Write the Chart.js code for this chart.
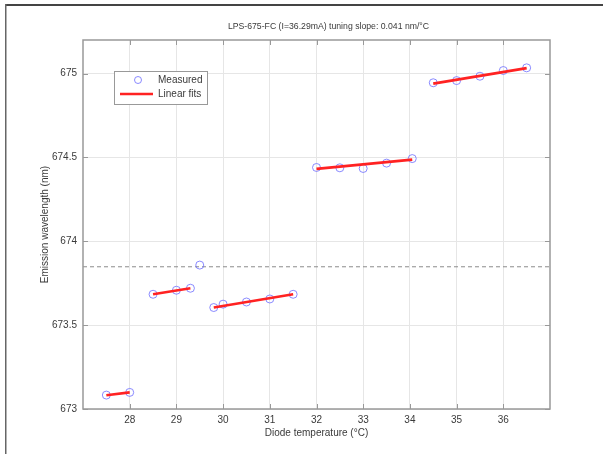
<!DOCTYPE html>
<html>
<head>
<meta charset="utf-8">
<script src="https://cdn.jsdelivr.net/npm/chart.js@4/dist/chart.umd.min.js"></script>
<style>
  html, body { margin: 0; padding: 0; background: #fff; }
  #wrap { position: relative; width: 603px; height: 454px; }
</style>
</head>
<body>
<div id="wrap"><canvas id="chart" width="603" height="454"></canvas></div>
<script>
// measured points (diode temperature in degC, wavelength in nm)
const measuredT  = [27.5, 28, 28.5, 29, 29.3, 29.5, 29.8, 30, 30.5, 31, 31.5, 32, 32.5, 33, 33.5, 34.05, 34.5, 35, 35.5, 36, 36.5];
const measuredNm = [673.083, 673.099, 673.684, 673.708, 673.72, 673.858, 673.605, 673.625, 673.638, 673.656, 673.684,
                    674.44, 674.438, 674.434, 674.466, 674.493, 674.945, 674.958, 674.984, 675.018, 675.034];

// linear fit segments (start / end)
const fitStartT  = [27.5, 28.5, 29.8, 32, 34.5];
const fitStartNm = [673.082, 673.684, 673.605, 674.432, 674.94];
const fitEndT    = [28, 29.3, 31.5, 34.05, 36.5];
const fitEndNm   = [673.099, 673.72, 673.684, 674.487, 675.032];

// dashed reference level
const refLevel = 673.848;

const xTicks = [28, 29, 30, 31, 32, 33, 34, 35, 36];
const yTicks = [673, 673.5, 674, 674.5, 675];
const xMin = 27, xMax = 37;
const yMin = 673, yMax = 675.2;

const titleText = 'LPS-675-FC (I=36.29mA) tuning slope: 0.041 nm/\u00B0C';
const xLabel = 'Diode temperature (\u00B0C)';
const yLabel = 'Emission wavelength (nm)';

const FONT = '"Liberation Sans", Arial, sans-serif';
const TEXT = '#3a3a3a';
const BOX = '#999';
const MARKER = 'rgba(110, 110, 255, 0.8)';
const FIT = '#ff2222';

const datasets = [];
datasets.push({
    label: 'Measured',
    type: 'scatter',
    data: measuredT.map((t, i) => ({ x: t, y: measuredNm[i] })),
    pointStyle: 'circle',
    pointRadius: 4,
    pointBorderWidth: 1,
    pointBorderColor: MARKER,
    pointBackgroundColor: 'rgba(0,0,0,0)',
    order: 1
});
fitStartT.forEach((t, i) => {
    datasets.push({
        label: 'Linear fits',
        type: 'line',
        data: [{ x: t, y: fitStartNm[i] }, { x: fitEndT[i], y: fitEndNm[i] }],
        borderColor: FIT,
        borderWidth: 2.7,
        pointRadius: 0,
        fill: false,
        order: 0
    });
});
datasets.push({
    label: 'ref',
    type: 'line',
    data: [{ x: xMin, y: refLevel }, { x: xMax, y: refLevel }],
    borderColor: '#8c8c8c',
    borderWidth: 1,
    borderDash: [4, 3],
    pointRadius: 0,
    fill: false,
    order: 2
});

// matlab-like frame: box, inward ticks, titles, legend
const matlabFrame = {
    id: 'matlabFrame',
    beforeDraw(chart) {
        const c = chart.ctx;
        c.save();
        c.fillStyle = '#fff';
        c.fillRect(0, 0, chart.width, chart.height);
        c.fillStyle = '#444';
        c.fillRect(5, 4, chart.width - 5, 2);
        c.fillStyle = '#666';
        c.fillRect(5, 4, 1.5, chart.height - 4);
        c.restore();
    },
    afterDraw(chart) {
        const c = chart.ctx;
        const a = chart.chartArea;
        const xs = chart.scales.x, ys = chart.scales.y;
        c.save();
        c.strokeStyle = BOX;
        c.lineWidth = 1.5;
        c.strokeRect(a.left, a.top, a.right - a.left, a.bottom - a.top);
        c.lineWidth = 1;
        c.beginPath();
        xTicks.forEach(v => {
            const px = Math.round(xs.getPixelForValue(v)) + 0.5;
            c.moveTo(px, a.bottom); c.lineTo(px, a.bottom - 5);
            c.moveTo(px, a.top); c.lineTo(px, a.top + 5);
        });
        yTicks.forEach(v => {
            const py = Math.round(ys.getPixelForValue(v)) + 0.5;
            c.moveTo(a.left, py); c.lineTo(a.left + 5, py);
            c.moveTo(a.right, py); c.lineTo(a.right - 5, py);
        });
        c.stroke();

        const cx = (a.left + a.right) / 2;
        c.fillStyle = TEXT;
        c.textAlign = 'center';
        c.textBaseline = 'middle';
        c.font = '8.7px ' + FONT;
        c.fillText(titleText, cx + 12, a.top - 13);
        c.font = '10px ' + FONT;
        c.fillText(xLabel, cx, a.bottom + 24);
        c.translate(a.left - 38, (a.top + a.bottom) / 2);
        c.rotate(-Math.PI / 2);
        c.fillText(yLabel, 0, 0);
        c.restore();

        // legend box
        c.save();
        const lx = a.left + 31, ly = a.top + 31, lw = 93, lh = 33;
        c.fillStyle = '#fff';
        c.fillRect(lx, ly, lw, lh);
        c.strokeStyle = BOX;
        c.lineWidth = 1;
        c.strokeRect(lx + 0.5, ly + 0.5, lw, lh);
        c.strokeStyle = MARKER;
        c.beginPath();
        c.arc(lx + 24, ly + 9, 3.5, 0, Math.PI * 2);
        c.stroke();
        c.strokeStyle = FIT;
        c.lineWidth = 2.7;
        c.beginPath();
        c.moveTo(lx + 6, ly + 23); c.lineTo(lx + 39, ly + 23);
        c.stroke();
        c.fillStyle = TEXT;
        c.font = '10px ' + FONT;
        c.textAlign = 'left';
        c.textBaseline = 'middle';
        c.fillText('Measured', lx + 44, ly + 9);
        c.fillText('Linear fits', lx + 44, ly + 23);
        c.restore();
    }
};

new Chart(document.getElementById('chart'), {
    type: 'scatter',
    data: { datasets },
    options: {
        responsive: false,
        animation: false,
        events: [],
        layout: { padding: { left: 23, right: 53, top: 40, bottom: 10 } },
        plugins: {
            legend: { display: false },
            tooltip: { enabled: false },
            title: { display: false }
        },
        scales: {
            x: {
                type: 'linear',
                min: xMin,
                max: xMax,
                afterBuildTicks: s => { s.ticks = xTicks.map(v => ({ value: v })); },
                afterFit: s => { s.height = 35; },
                ticks: { color: TEXT, font: { family: FONT, size: 10 }, padding: 5, callback: v => String(v) },
                grid: { color: '#e6e6e6', lineWidth: 1, drawTicks: false },
                border: { display: false }
            },
            y: {
                type: 'linear',
                min: yMin,
                max: yMax,
                afterBuildTicks: s => { s.ticks = yTicks.map(v => ({ value: v })); },
                afterFit: s => { s.width = 60; },
                ticks: { color: TEXT, font: { family: FONT, size: 10 }, padding: 6, callback: v => String(v) },
                grid: { color: '#e6e6e6', lineWidth: 1, drawTicks: false },
                border: { display: false }
            }
        }
    },
    plugins: [matlabFrame]
});
</script>
</body>
</html>
